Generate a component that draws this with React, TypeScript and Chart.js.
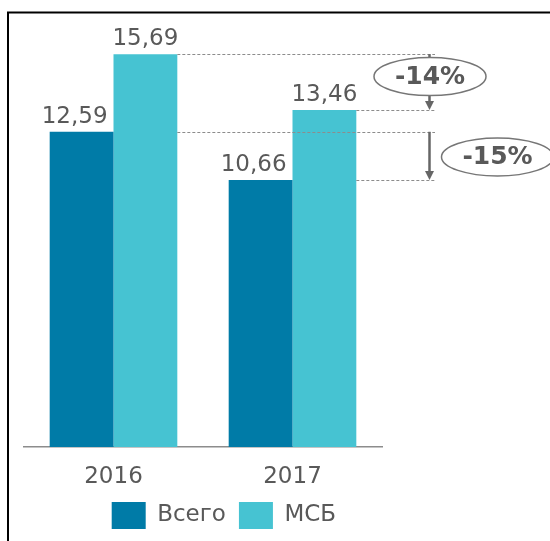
import { useEffect, useRef } from 'react';
import { Chart, registerables } from 'chart.js';

Chart.register(...registerables);

// ---- data ----
const categories = ['2016', '2017'];
const seriesNames = ['Всего', 'МСБ'];
const totalValues = [12.59, 10.66];
const smeValues = [15.69, 13.46];
const changeLabels = ['-14%', '-15%']; // [МСБ change, Всего change]
const yMax = 16;

// ---- styles ----
const FONT = "'DejaVu Sans', Verdana, sans-serif";
const DARK = '#007BA7';
const LIGHT = '#46C3D2';
const TEXT = '#595959';
const GREY = '#666666';

const fmt = (v: number) => v.toFixed(2).replace('.', ',');

const framePlugin = {
  id: 'frame',
  beforeDraw(chart: any) {
    const ctx = chart.ctx;
    ctx.save();
    ctx.fillStyle = '#ffffff';
    ctx.fillRect(0, 0, chart.width, chart.height);
    ctx.strokeStyle = '#000000';
    ctx.lineWidth = 2;
    ctx.strokeRect(8, 12.5, chart.width + 50, chart.height + 50);
    ctx.restore();
  },
};

const legendPlacePlugin = {
  id: 'legendPlace',
  afterLayout(chart: any) {
    const lg = chart.legend;
    if (!lg) return;
    const pad = lg.options.labels.padding;
    const w = lg.right - lg.left;
    const h = 27 + pad * 2 + 10;
    lg.left = 111.7 - pad;
    lg.right = lg.left + w;
    lg.top = 502 - pad;
    lg.bottom = lg.top + h;
    lg.height = h;
  },
};

const valueLabelPlugin = {
  id: 'valueLabels',
  afterDatasetsDraw(chart: any) {
    const ctx = chart.ctx;
    ctx.save();
    ctx.font = `23px ${FONT}`;
    ctx.fillStyle = TEXT;
    ctx.textAlign = 'center';
    ctx.textBaseline = 'alphabetic';
    chart.data.datasets.forEach((ds: any, di: number) => {
      const meta = chart.getDatasetMeta(di);
      meta.data.forEach((bar: any, i: number) => {
        const dx = di === 0 ? -7 : 0;
        ctx.fillText(fmt(ds.data[i]), bar.x + dx, bar.y - 9);
      });
    });
    ctx.restore();
  },
};

const changePlugin = {
  id: 'changes',
  afterDraw(chart: any) {
    const ctx = chart.ctx;
    const ys = chart.scales.y;
    const area = chart.chartArea;
    const mSme = chart.getDatasetMeta(1);
    const rightOf = (el: any) => el.x + el.width / 2;
    const yp = (v: number) => ys.getPixelForValue(v);
    const endX = area.right + 53;
    const arrowX = area.right + 47.5;

    const lines: [number, number][] = [
      [rightOf(mSme.data[0]), yp(smeValues[0])],
      [rightOf(mSme.data[0]), yp(totalValues[0])],
      [rightOf(mSme.data[1]), yp(smeValues[1])],
      [rightOf(mSme.data[1]), yp(totalValues[1])],
    ];
    ctx.save();
    ctx.strokeStyle = '#8c8c8c';
    ctx.lineWidth = 1;
    ctx.setLineDash([3, 2]);
    lines.forEach(([x, y]) => {
      const yy = Math.round(y) + 0.5;
      ctx.beginPath();
      ctx.moveTo(x, yy);
      ctx.lineTo(endX, yy);
      ctx.stroke();
    });
    ctx.setLineDash([]);

    const arrow = (x: number, y1: number, y2: number) => {
      ctx.strokeStyle = GREY;
      ctx.fillStyle = GREY;
      ctx.lineWidth = 2.5;
      ctx.beginPath();
      ctx.moveTo(x, y1);
      ctx.lineTo(x, y2 - 8);
      ctx.stroke();
      ctx.beginPath();
      ctx.moveTo(x - 4.5, y2 - 9);
      ctx.lineTo(x + 4.5, y2 - 9);
      ctx.lineTo(x, y2);
      ctx.closePath();
      ctx.fill();
    };
    const bubble = (cx: number, cy: number, text: string) => {
      ctx.beginPath();
      ctx.ellipse(cx, cy, 56, 19, 0, 0, Math.PI * 2);
      ctx.fillStyle = '#ffffff';
      ctx.fill();
      ctx.strokeStyle = '#767676';
      ctx.lineWidth = 1.5;
      ctx.stroke();
      ctx.fillStyle = TEXT;
      ctx.font = `bold 25px ${FONT}`;
      ctx.textAlign = 'center';
      ctx.textBaseline = 'middle';
      ctx.fillText(text, cx, cy + 1);
    };

    const s0 = yp(smeValues[0]);
    const s1 = yp(smeValues[1]);
    const t0 = yp(totalValues[0]);
    const t1 = yp(totalValues[1]);
    arrow(arrowX, s0, s1);
    bubble(arrowX + 0.5, s0 + (s1 - s0) * 0.4, changeLabels[0]);
    arrow(arrowX, t0, t1);
    bubble(arrowX + 68, (t0 + t1) / 2 + 1, changeLabels[1]);
    ctx.restore();
  },
};

export default function App() {
  const ref = useRef<HTMLCanvasElement>(null);

  useEffect(() => {
    if (!ref.current) return;
    const chart = new Chart(ref.current, {
      type: 'bar',
      data: {
        labels: categories,
        datasets: [
          {
            label: seriesNames[0],
            data: totalValues,
            backgroundColor: DARK,
            borderWidth: 0,
            barPercentage: 1,
            categoryPercentage: 0.713,
          },
          {
            label: seriesNames[1],
            data: smeValues,
            backgroundColor: LIGHT,
            borderWidth: 0,
            barPercentage: 1,
            categoryPercentage: 0.713,
          },
        ],
      },
      options: {
        responsive: false,
        animation: false,
        devicePixelRatio: 1,
        events: [],
        layout: { padding: { top: 46.4, left: 24, right: 168, bottom: 32.4 } },
        scales: {
          x: {
            grid: { display: false, drawTicks: false },
            border: { display: true, color: '#8c8c8c', width: 1.5 },
            ticks: { color: TEXT, font: { family: FONT, size: 23 }, padding: 16.5 },
          },
          y: { display: false, min: 0, max: yMax },
        },
        plugins: {
          tooltip: { enabled: false },
          legend: {
            position: 'bottom',
            align: 'start',
            maxHeight: 1,
            labels: {
              boxWidth: 34,
              boxHeight: 27,
              padding: 13,
              color: TEXT,
              font: { family: FONT, size: 23 },
            },
          },
        },
      },
      plugins: [framePlugin, legendPlacePlugin, valueLabelPlugin, changePlugin],
    } as any);
    return () => chart.destroy();
  }, []);

  return (
    <div style={{ position: 'absolute', left: 0, top: 0, width: 550, height: 541 }}>
      <canvas ref={ref} width={550} height={541} style={{ display: 'block' }} />
    </div>
  );
}
